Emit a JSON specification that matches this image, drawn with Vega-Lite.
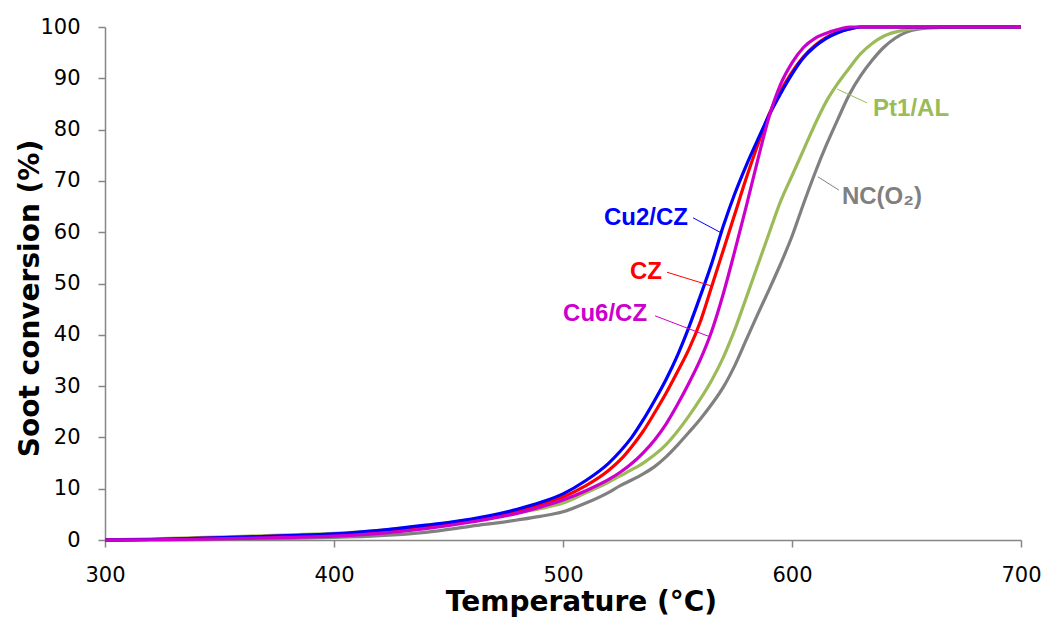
{
  "$schema": "https://vega.github.io/schema/vega-lite/v6.json",
  "width": 916,
  "height": 513,
  "autosize": {"type": "none"},
  "padding": {"left": 105, "top": 27, "right": 27, "bottom": 79},
  "background": "white",
  "config": {
    "view": {"stroke": null},
    "axis": {
      "grid": false,
      "domainColor": "#868686",
      "domainWidth": 1.5,
      "tickColor": "#868686",
      "tickWidth": 1.5,
      "tickSize": 7,
      "labelFont": "DejaVu Sans",
      "labelFontSize": 21,
      "labelColor": "#000000",
      "titleFont": "DejaVu Sans",
      "titleFontSize": 28,
      "titleFontWeight": "bold",
      "titleColor": "#000000"
    }
  },
  "datasets": {
    "curves": [
      {"s":"NC(O2)","t":300,"c":0},{"s":"NC(O2)","t":320,"c":0.02},{"s":"NC(O2)","t":340,"c":0.08},{"s":"NC(O2)","t":360,"c":0.15},{"s":"NC(O2)","t":380,"c":0.3},{"s":"NC(O2)","t":400,"c":0.5},{"s":"NC(O2)","t":420,"c":0.85},{"s":"NC(O2)","t":440,"c":1.5},{"s":"NC(O2)","t":460,"c":2.7},{"s":"NC(O2)","t":480,"c":3.9},{"s":"NC(O2)","t":490,"c":4.6},{"s":"NC(O2)","t":500,"c":5.5},{"s":"NC(O2)","t":510,"c":7.2},{"s":"NC(O2)","t":520,"c":9.3},{"s":"NC(O2)","t":525,"c":10.6},{"s":"NC(O2)","t":530,"c":11.7},{"s":"NC(O2)","t":535,"c":12.9},{"s":"NC(O2)","t":540,"c":14.3},{"s":"NC(O2)","t":545,"c":16.2},{"s":"NC(O2)","t":550,"c":18.5},{"s":"NC(O2)","t":555,"c":21},{"s":"NC(O2)","t":560,"c":23.6},{"s":"NC(O2)","t":565,"c":26.5},{"s":"NC(O2)","t":570,"c":29.8},{"s":"NC(O2)","t":575,"c":34},{"s":"NC(O2)","t":580,"c":39},{"s":"NC(O2)","t":585,"c":44},{"s":"NC(O2)","t":590,"c":48.8},{"s":"NC(O2)","t":595,"c":53.8},{"s":"NC(O2)","t":600,"c":59.2},{"s":"NC(O2)","t":605,"c":65.5},{"s":"NC(O2)","t":610,"c":71.5},{"s":"NC(O2)","t":615,"c":77},{"s":"NC(O2)","t":620,"c":82},{"s":"NC(O2)","t":625,"c":86.8},{"s":"NC(O2)","t":630,"c":90.5},{"s":"NC(O2)","t":635,"c":93.5},{"s":"NC(O2)","t":640,"c":96},{"s":"NC(O2)","t":645,"c":97.8},{"s":"NC(O2)","t":650,"c":99},{"s":"NC(O2)","t":655,"c":99.6},{"s":"NC(O2)","t":665,"c":99.9},{"s":"NC(O2)","t":675,"c":100},{"s":"NC(O2)","t":700,"c":100},
      {"s":"Pt1/AL","t":300,"c":0},{"s":"Pt1/AL","t":320,"c":0.2},{"s":"Pt1/AL","t":340,"c":0.45},{"s":"Pt1/AL","t":360,"c":0.7},{"s":"Pt1/AL","t":380,"c":1.0},{"s":"Pt1/AL","t":400,"c":1.3},{"s":"Pt1/AL","t":420,"c":1.9},{"s":"Pt1/AL","t":440,"c":2.8},{"s":"Pt1/AL","t":460,"c":4.0},{"s":"Pt1/AL","t":480,"c":5.3},{"s":"Pt1/AL","t":490,"c":6.1},{"s":"Pt1/AL","t":500,"c":7.2},{"s":"Pt1/AL","t":510,"c":9.2},{"s":"Pt1/AL","t":520,"c":11.3},{"s":"Pt1/AL","t":525,"c":12.5},{"s":"Pt1/AL","t":530,"c":13.7},{"s":"Pt1/AL","t":535,"c":15},{"s":"Pt1/AL","t":540,"c":16.6},{"s":"Pt1/AL","t":545,"c":18.6},{"s":"Pt1/AL","t":550,"c":21.2},{"s":"Pt1/AL","t":555,"c":24.2},{"s":"Pt1/AL","t":560,"c":27.5},{"s":"Pt1/AL","t":565,"c":31.2},{"s":"Pt1/AL","t":570,"c":35.6},{"s":"Pt1/AL","t":575,"c":41},{"s":"Pt1/AL","t":580,"c":47.2},{"s":"Pt1/AL","t":585,"c":53.5},{"s":"Pt1/AL","t":590,"c":59.8},{"s":"Pt1/AL","t":595,"c":66},{"s":"Pt1/AL","t":600,"c":71},{"s":"Pt1/AL","t":605,"c":76},{"s":"Pt1/AL","t":610,"c":81},{"s":"Pt1/AL","t":615,"c":85.5},{"s":"Pt1/AL","t":620,"c":89},{"s":"Pt1/AL","t":625,"c":92},{"s":"Pt1/AL","t":630,"c":94.8},{"s":"Pt1/AL","t":635,"c":96.8},{"s":"Pt1/AL","t":640,"c":98.2},{"s":"Pt1/AL","t":645,"c":99},{"s":"Pt1/AL","t":650,"c":99.5},{"s":"Pt1/AL","t":655,"c":99.8},{"s":"Pt1/AL","t":665,"c":100},{"s":"Pt1/AL","t":700,"c":100},
      {"s":"CZ","t":300,"c":0},{"s":"CZ","t":320,"c":0.1},{"s":"CZ","t":340,"c":0.3},{"s":"CZ","t":360,"c":0.55},{"s":"CZ","t":380,"c":0.8},{"s":"CZ","t":400,"c":1.1},{"s":"CZ","t":420,"c":1.8},{"s":"CZ","t":440,"c":2.7},{"s":"CZ","t":460,"c":3.9},{"s":"CZ","t":480,"c":5.6},{"s":"CZ","t":490,"c":6.9},{"s":"CZ","t":500,"c":8.4},{"s":"CZ","t":510,"c":10.6},{"s":"CZ","t":520,"c":13.6},{"s":"CZ","t":525,"c":15.6},{"s":"CZ","t":530,"c":18.2},{"s":"CZ","t":535,"c":21.2},{"s":"CZ","t":540,"c":24.8},{"s":"CZ","t":545,"c":28.6},{"s":"CZ","t":550,"c":32.8},{"s":"CZ","t":555,"c":37.2},{"s":"CZ","t":560,"c":42.6},{"s":"CZ","t":565,"c":49.5},{"s":"CZ","t":570,"c":56.5},{"s":"CZ","t":575,"c":63.5},{"s":"CZ","t":580,"c":70.5},{"s":"CZ","t":585,"c":77},{"s":"CZ","t":590,"c":83},{"s":"CZ","t":595,"c":87.5},{"s":"CZ","t":600,"c":91.2},{"s":"CZ","t":605,"c":94.2},{"s":"CZ","t":610,"c":96.4},{"s":"CZ","t":615,"c":98},{"s":"CZ","t":620,"c":99},{"s":"CZ","t":625,"c":99.6},{"s":"CZ","t":630,"c":100},{"s":"CZ","t":700,"c":100},
      {"s":"Cu2/CZ","t":300,"c":0},{"s":"Cu2/CZ","t":320,"c":0.1},{"s":"Cu2/CZ","t":340,"c":0.3},{"s":"Cu2/CZ","t":360,"c":0.55},{"s":"Cu2/CZ","t":380,"c":0.85},{"s":"Cu2/CZ","t":400,"c":1.2},{"s":"Cu2/CZ","t":420,"c":1.9},{"s":"Cu2/CZ","t":440,"c":2.9},{"s":"Cu2/CZ","t":460,"c":4.1},{"s":"Cu2/CZ","t":480,"c":6.0},{"s":"Cu2/CZ","t":490,"c":7.3},{"s":"Cu2/CZ","t":500,"c":9.0},{"s":"Cu2/CZ","t":510,"c":11.6},{"s":"Cu2/CZ","t":520,"c":15.0},{"s":"Cu2/CZ","t":525,"c":17.3},{"s":"Cu2/CZ","t":530,"c":20.0},{"s":"Cu2/CZ","t":535,"c":23.4},{"s":"Cu2/CZ","t":540,"c":27.2},{"s":"Cu2/CZ","t":545,"c":31.3},{"s":"Cu2/CZ","t":550,"c":36},{"s":"Cu2/CZ","t":555,"c":41.5},{"s":"Cu2/CZ","t":560,"c":47.6},{"s":"Cu2/CZ","t":565,"c":54},{"s":"Cu2/CZ","t":570,"c":61.2},{"s":"Cu2/CZ","t":575,"c":67.5},{"s":"Cu2/CZ","t":580,"c":73},{"s":"Cu2/CZ","t":585,"c":78},{"s":"Cu2/CZ","t":590,"c":82.8},{"s":"Cu2/CZ","t":595,"c":87},{"s":"Cu2/CZ","t":600,"c":90.8},{"s":"Cu2/CZ","t":605,"c":94},{"s":"Cu2/CZ","t":610,"c":96.2},{"s":"Cu2/CZ","t":615,"c":97.8},{"s":"Cu2/CZ","t":620,"c":98.9},{"s":"Cu2/CZ","t":625,"c":99.6},{"s":"Cu2/CZ","t":630,"c":100},{"s":"Cu2/CZ","t":700,"c":100},
      {"s":"Cu6/CZ","t":300,"c":0},{"s":"Cu6/CZ","t":320,"c":0.05},{"s":"Cu6/CZ","t":340,"c":0.15},{"s":"Cu6/CZ","t":360,"c":0.3},{"s":"Cu6/CZ","t":380,"c":0.5},{"s":"Cu6/CZ","t":400,"c":0.75},{"s":"Cu6/CZ","t":420,"c":1.3},{"s":"Cu6/CZ","t":440,"c":2.2},{"s":"Cu6/CZ","t":460,"c":3.5},{"s":"Cu6/CZ","t":480,"c":5.2},{"s":"Cu6/CZ","t":490,"c":6.4},{"s":"Cu6/CZ","t":500,"c":7.8},{"s":"Cu6/CZ","t":510,"c":9.6},{"s":"Cu6/CZ","t":520,"c":11.8},{"s":"Cu6/CZ","t":525,"c":13.2},{"s":"Cu6/CZ","t":530,"c":14.9},{"s":"Cu6/CZ","t":535,"c":17},{"s":"Cu6/CZ","t":540,"c":19.5},{"s":"Cu6/CZ","t":545,"c":22.6},{"s":"Cu6/CZ","t":550,"c":26.4},{"s":"Cu6/CZ","t":555,"c":30.6},{"s":"Cu6/CZ","t":560,"c":35.2},{"s":"Cu6/CZ","t":565,"c":40.8},{"s":"Cu6/CZ","t":570,"c":48},{"s":"Cu6/CZ","t":575,"c":56.3},{"s":"Cu6/CZ","t":580,"c":65},{"s":"Cu6/CZ","t":585,"c":74},{"s":"Cu6/CZ","t":590,"c":82.5},{"s":"Cu6/CZ","t":595,"c":88.8},{"s":"Cu6/CZ","t":600,"c":93},{"s":"Cu6/CZ","t":605,"c":96},{"s":"Cu6/CZ","t":610,"c":97.8},{"s":"Cu6/CZ","t":615,"c":98.8},{"s":"Cu6/CZ","t":620,"c":99.5},{"s":"Cu6/CZ","t":625,"c":100},{"s":"Cu6/CZ","t":700,"c":100}
    ],
    "leaders": [
      {"s":"Cu2/CZ","t":556.8,"c":62.8,"t2":569.4,"c2":59.8},
      {"s":"CZ","t":545.4,"c":52.2,"t2":565,"c2":49.5},
      {"s":"Cu6/CZ","t":540.2,"c":43.7,"t2":564.2,"c2":39.6},
      {"s":"Pt1/AL","t":632.8,"c":85.2,"t2":619.7,"c2":87.9},
      {"s":"NC(O2)","t":620.5,"c":68.2,"t2":611.3,"c2":70.8}
    ],
    "labelsRight": [
      {"s":"Cu2/CZ","txt":"Cu2/CZ","t":554.6,"c":62.8},
      {"s":"CZ","txt":"CZ","t":543.2,"c":52.2},
      {"s":"Cu6/CZ","txt":"Cu6/CZ","t":536.7,"c":44}
    ],
    "labelsLeft": [
      {"s":"Pt1/AL","txt":"Pt1/AL","t":635.4,"c":84},
      {"s":"NC(O2)","txt":"NC(O₂)","t":621.8,"c":66.9}
    ]
  },
  "layer": [
    {
      "data": {"name": "curves"},
      "mark": {"type": "line", "strokeWidth": 3.2, "interpolate": "monotone"},
      "encoding": {
        "x": {
          "field": "t", "type": "quantitative",
          "scale": {"domain": [300, 700], "nice": false, "zero": false},
          "axis": {
            "values": [300, 400, 500, 600, 700],
            "labelPadding": 17,
            "labelFlush": false,
            "title": "Temperature (°C)",
            "titleX": 476,
            "titleY": 62,
            "titleBaseline": "middle",
            "titleAlign": "center"
          }
        },
        "y": {
          "field": "c", "type": "quantitative",
          "scale": {"domain": [0, 100], "nice": false},
          "axis": {
            "values": [0, 10, 20, 30, 40, 50, 60, 70, 80, 90, 100],
            "labelPadding": 18,
            "labelFlush": false,
            "title": "Soot conversion (%)",
            "titleX": -75,
            "titleY": 271,
            "titleAngle": -90,
            "titleBaseline": "middle",
            "titleAlign": "center"
          }
        },
        "color": {
          "field": "s", "type": "nominal",
          "scale": {
            "domain": ["NC(O2)", "Pt1/AL", "CZ", "Cu2/CZ", "Cu6/CZ"],
            "range": ["#808080", "#9BBB59", "#FF0000", "#0000FF", "#CC00CC"]
          },
          "legend": null
        }
      }
    },
    {
      "data": {"name": "leaders"},
      "mark": {"type": "rule", "strokeWidth": 1},
      "encoding": {
        "x": {"field": "t", "type": "quantitative"},
        "y": {"field": "c", "type": "quantitative"},
        "x2": {"field": "t2"},
        "y2": {"field": "c2"},
        "color": {"field": "s", "type": "nominal", "legend": null}
      }
    },
    {
      "data": {"name": "labelsRight"},
      "mark": {"type": "text", "align": "right", "baseline": "middle", "font": "Liberation Sans", "fontWeight": "bold", "fontSize": 24},
      "encoding": {
        "x": {"field": "t", "type": "quantitative"},
        "y": {"field": "c", "type": "quantitative"},
        "text": {"field": "txt"},
        "color": {"field": "s", "type": "nominal", "legend": null}
      }
    },
    {
      "data": {"name": "labelsLeft"},
      "mark": {"type": "text", "align": "left", "baseline": "middle", "font": "Liberation Sans", "fontWeight": "bold", "fontSize": 24},
      "encoding": {
        "x": {"field": "t", "type": "quantitative"},
        "y": {"field": "c", "type": "quantitative"},
        "text": {"field": "txt"},
        "color": {"field": "s", "type": "nominal", "legend": null}
      }
    }
  ]
}
